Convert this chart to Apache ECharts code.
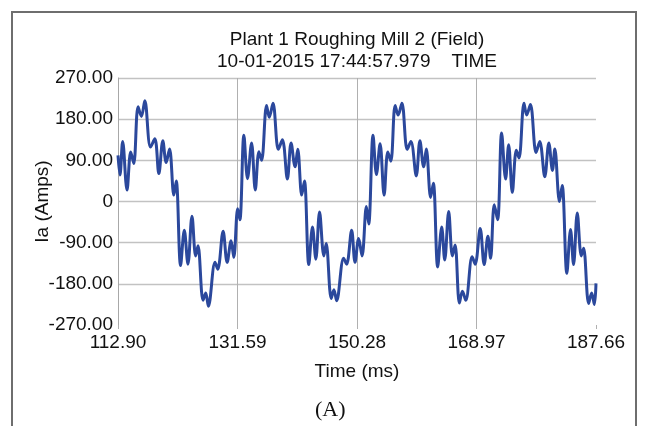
<!DOCTYPE html>
<html>
<head>
<meta charset="utf-8">
<script src="https://cdn.jsdelivr.net/npm/echarts@6/dist/echarts.min.js"></script>
<style>
html,body{margin:0;padding:0;background:#fff;}
#chart{width:648px;height:426px;}
</style>
</head>
<body>
<div id="chart"></div>
<script>
// ---- data ----
const timeMs = [
  112.90,113.21,113.63,114.31,114.89,115.36,116.04,116.56,117.09,117.98,118.66,119.29,119.91,120.44,120.96,121.64,122.01,
  122.69,123.27,123.84,124.47,125.05,125.41,126.20,126.62,127.03,128.08,128.50,129.34,129.97,130.59,131.01,
  131.62,131.96,132.59,133.16,133.79,134.37,134.94,135.36,136.14,136.56,137.14,137.98,138.61,139.39,139.97,140.59,141.01,141.64,142.06,
  142.74,143.32,143.84,144.42,145.10,145.46,146.25,146.67,147.09,148.19,148.66,149.44,149.97,
  150.54,151.07,151.75,152.11,152.79,153.32,153.89,154.52,155.10,155.57,156.25,156.72,157.30,158.13,158.71,159.55,160.12,160.70,161.12,161.80,162.22,
  162.90,163.53,164.00,164.62,165.20,165.62,166.30,166.77,167.29,168.29,168.76,
  169.55,170.17,170.75,171.17,171.75,172.27,172.90,173.52,174.00,174.57,175.20,175.62,176.40,176.82,177.40,178.29,178.86,179.65,180.28,180.85,181.22,181.95,182.37,
  183.10,183.68,184.15,184.73,185.36,185.72,186.51,186.98,187.40,187.66
];
const currentA = [
  101,58,131,25,108,83,207,186,220,119,137,61,133,85,115,14,45,
  -140,-63,-137,-32,-119,-97,-216,-200,-229,-133,-148,-65,-133,-86,-122,
  -16,-40,145,50,128,25,109,90,210,184,215,114,135,49,128,76,114,14,45,
  -138,-56,-126,-23,-119,-92,-212,-193,-217,-124,-137,-63,-133,
  -81,-119,-11,-49,145,59,126,14,108,88,210,189,215,114,131,56,133,76,115,9,40,
  -143,-56,-128,-22,-119,-95,-222,-196,-216,-121,-137,
  -59,-138,-76,-124,-7,-40,150,49,124,20,112,95,215,189,212,107,131,54,128,68,115,0,35,
  -157,-61,-138,-25,-119,-102,-223,-200,-225,-179
];
const xTicks = [112.90, 131.59, 150.28, 168.97, 187.66];
const xTickLabels = ['112.90', '131.59', '150.28', '168.97', '187.66'];
const yTicks = [-270, -180, -90, 0, 90, 180, 270];
const yTickLabels = ['-270.00', '-180.00', '-90.00', '0', '90.00', '180.00', '270.00'];
const titleLines = ['Plant 1 Roughing Mill 2 (Field)', '10-01-2015 17:44:57.979    TIME'];
const xName = 'Time (ms)';
const yName = 'Ia (Amps)';
const caption = '(A)';

// ---- chart ----
const FONT = '"Liberation Sans", Arial, sans-serif';
const chart = echarts.init(document.getElementById('chart'), null, {renderer: 'canvas'});
const seriesData = timeMs.map((t, i) => [t, currentA[i]]);
const innerTicks = xTicks.slice(1, xTicks.length - 1);

chart.setOption({
  animation: false,
  backgroundColor: '#ffffff',
  title: {
    text: titleLines.join('\n'),
    left: 357,
    top: 29,
    padding: 0,
    textAlign: 'center',
    textStyle: {fontFamily: FONT, fontSize: 19, fontWeight: 'normal', color: '#111', lineHeight: 22}
  },
  graphic: [
    {type: 'rect', z: 0, shape: {x: 12, y: 12, width: 624, height: 440},
     style: {fill: 'none', stroke: '#6e6e6e', lineWidth: 2}},
    {type: 'text', left: 331 - 16, top: 399,
     style: {text: caption, font: '22px "Liberation Serif", "Times New Roman", serif', fill: '#111'}}
  ],
  grid: {left: 118, right: 52, top: 78, bottom: 101, containLabel: false},
  xAxis: {
    type: 'value',
    min: xTicks[0],
    max: xTicks[xTicks.length - 1],
    name: xName,
    nameLocation: 'middle',
    nameGap: 37,
    nameMoveOverlap: false,
    nameTextStyle: {fontFamily: FONT, fontSize: 19, color: '#111'},
    axisLine: {show: false, onZero: false},
    axisTick: {show: true, customValues: xTicks, length: 4, lineStyle: {color: '#b0b0b0'}},
    axisLabel: {
      customValues: xTicks,
      formatter: v => xTickLabels[xTicks.indexOf(v)] !== undefined ? xTickLabels[xTicks.indexOf(v)] : v.toFixed(2),
      fontFamily: FONT, fontSize: 19, color: '#111', margin: 8
    },
    splitLine: {show: false}
  },
  yAxis: {
    type: 'value',
    min: yTicks[0],
    max: yTicks[yTicks.length - 1],
    interval: 90,
    name: yName,
    nameLocation: 'middle',
    nameGap: 66,
    nameMoveOverlap: false,
    nameTextStyle: {fontFamily: FONT, fontSize: 19, color: '#111'},
    axisLine: {show: true, onZero: false, lineStyle: {color: '#a8a8a8', width: 1}},
    axisTick: {show: false},
    axisLabel: {
      formatter: v => { const i = yTicks.indexOf(v); return i >= 0 ? yTickLabels[i] : String(v); },
      fontFamily: FONT, fontSize: 19, color: '#111', margin: 5
    },
    splitLine: {show: true, lineStyle: {
      color: ['rgba(0,0,0,0)', '#c2c2c2', '#c2c2c2', '#c2c2c2', '#c2c2c2', '#c2c2c2', '#c2c2c2'], width: 1.3}}
  },
  series: [{
    type: 'line',
    data: seriesData,
    showSymbol: false,
    smooth: 0.35,
    lineStyle: {color: '#2b489c', width: 3},
    z: 3,
    markLine: {
      silent: true,
      symbol: 'none',
      z: 1,
      label: {show: false},
      lineStyle: {color: '#b0b0b0', width: 1, type: 'solid'},
      data: innerTicks.map(t => ({xAxis: t}))
    }
  }]
});
</script>
</body>
</html>
